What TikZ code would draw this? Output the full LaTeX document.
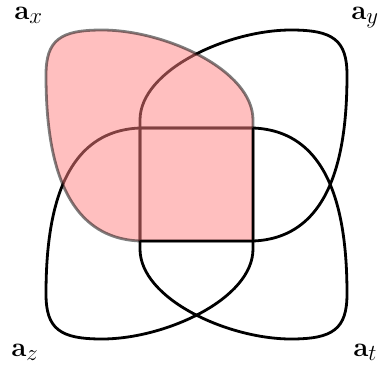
\documentclass[tikz,border=0pt]{standalone}
\usepackage{graphicx}
\begin{document}
\begin{tikzpicture}[x=1pt,y=-1pt,line width=2.8pt,line join=round,
  lbl/.style={anchor=base west,inner sep=0pt,font=\fontsize{24.88}{30}\selectfont}]
\useasboundingbox (0,0) rectangle (380,372);
\def\vshape{(253,241) -- (253,120) .. controls (253,70) and (165,30) .. (102,30) .. controls (60,30) and (46,40) .. (46,75) .. controls (46,150) and (60,238) .. (140,241) -- cycle}
% a_y (top right)
\begin{scope}[shift={(393,0)},xscale=-1]
  \draw \vshape;
\end{scope}
% a_z (bottom left)
\begin{scope}[shift={(0,369)},yscale=-1]
  \draw \vshape;
\end{scope}
% a_t (bottom right)
\begin{scope}[shift={(393,369)},xscale=-1,yscale=-1]
  \draw \vshape;
\end{scope}
% a_x (top left, shaded)
\filldraw[fill=red!50,draw=black,opacity=0.5] \vshape;
\draw (253,128) -- (253,241) -- (140,241);
\node[lbl] (ax) at (13,19) {\scalebox{1.1}{$\mathbf{a}_x$}};
\node[lbl] (ay) at (350,19) {\scalebox{1.1}{$\mathbf{a}_y$}};
\node[lbl] (az) at (10,356) {\scalebox{1.1}{$\mathbf{a}_z$}};
\node[lbl] (at) at (352,356) {\scalebox{1.1}{$\mathbf{a}_t$}};
\end{tikzpicture}
\end{document}
